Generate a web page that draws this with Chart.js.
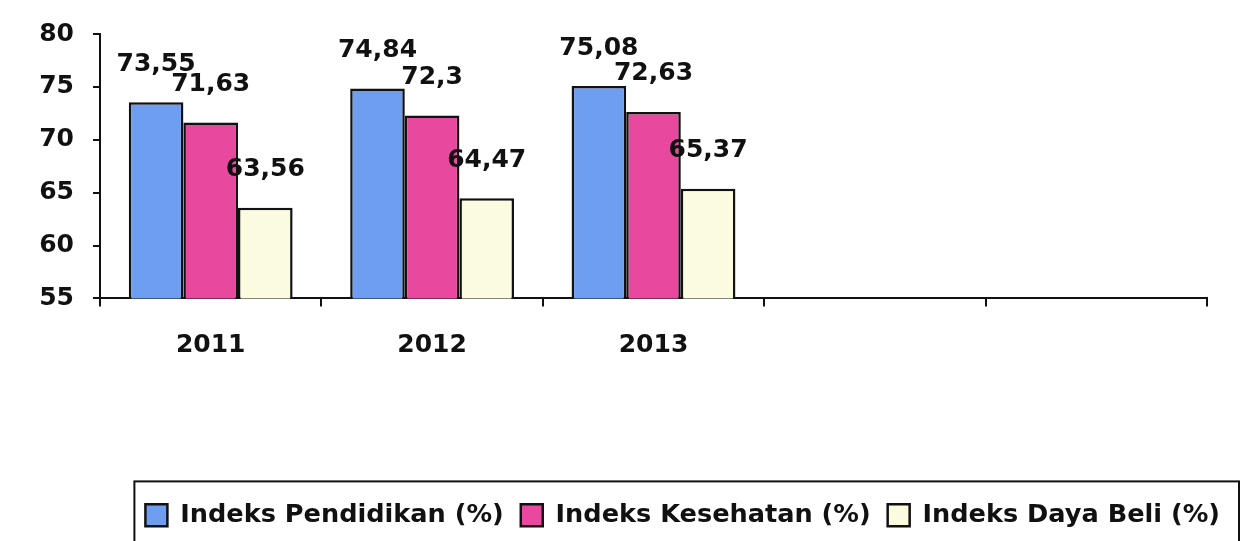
<!DOCTYPE html>
<html>
<head>
<meta charset="utf-8">
<script src="https://cdn.jsdelivr.net/npm/chart.js@4/dist/chart.umd.min.js"></script>
<style>
    html, body { margin: 0; padding: 0; background: #fff; }
    #box { width: 1248px; height: 541px; position: relative; }
</style>
</head>
<body>
<div id="box"><canvas id="chart"></canvas></div>
<script>
const years = ["2011", "2012", "2013", "", ""];
const pendidikan = [73.55, 74.84, 75.08, null, null];
const kesehatan = [71.63, 72.3, 72.63, null, null];
const dayaBeli = [63.56, 64.47, 65.37, null, null];
const yTicks = [55, 60, 65, 70, 75, 80];

const fontFamily = "'DejaVu Sans', Verdana, sans-serif";

// value labels above each bar, comma as decimal separator
const valueLabels = {
    id: 'valueLabels',
    afterDatasetsDraw(chart) {
        const ctx = chart.ctx;
        ctx.save();
        ctx.font = "bold 25px " + fontFamily;
        ctx.fillStyle = "#111";
        ctx.textAlign = 'center';
        ctx.textBaseline = 'middle';
        chart.data.datasets.forEach((ds, i) => {
            chart.getDatasetMeta(i).data.forEach((bar, j) => {
                const v = ds.data[j];
                if (v === null) return;
                ctx.fillText(String(v).replace('.', ','), bar.x, bar.y - 38);
            });
        });
        ctx.restore();
    }
};

// frame around the legend (bottom edge runs off the picture)
const legendFrame = {
    id: 'legendFrame',
    afterDraw(chart) {
        const boxes = chart.legend.legendHitBoxes;
        if (!boxes || !boxes.length) return;
        const left = Math.min(...boxes.map(b => b.left)) - 11;
        const right = Math.max(...boxes.map(b => b.left + b.width)) + 19;
        const top = boxes[0].top - 21;
        const ctx = chart.ctx;
        ctx.save();
        ctx.strokeStyle = "#111";
        ctx.lineWidth = 2;
        ctx.strokeRect(left, top, right - left, chart.height + 10 - top);
        ctx.restore();
    }
};

new Chart(document.getElementById('chart'), {
    type: 'bar',
    data: {
        labels: years,
        datasets: [
            {
                label: "Indeks Pendidikan (%)",
                data: pendidikan,
                backgroundColor: "#6e9ef0",
                borderColor: "#111",
                borderWidth: 2.5
            },
            {
                label: "Indeks Kesehatan (%)",
                data: kesehatan,
                backgroundColor: "#e8489e",
                borderColor: "#111",
                borderWidth: 2.5
            },
            {
                label: "Indeks Daya Beli (%)",
                data: dayaBeli,
                backgroundColor: "#fbfbe0",
                borderColor: "#111",
                borderWidth: 2.5
            }
        ]
    },
    plugins: [valueLabels, legendFrame],
    options: {
        responsive: true,
        maintainAspectRatio: false,
        animation: false,
        categoryPercentage: 0.74,
        barPercentage: 1,
        layout: {
            padding: { top: 32, left: 0, right: 11, bottom: 3 }
        },
        plugins: {
            tooltip: { enabled: false },
            legend: {
                position: 'bottom',
                align: 'end',
                labels: {
                    color: "#111",
                    font: { family: fontFamily, size: 25.6, weight: 'bold' },
                    boxWidth: 22,
                    boxHeight: 22,
                    padding: 17
                }
            }
        },
        scales: {
            x: {
                grid: { drawOnChartArea: false, color: "#111", lineWidth: 2, tickLength: 8, offset: true },
                border: { color: "#111", width: 2 },
                ticks: {
                    color: "#111",
                    padding: 24,
                    font: { family: fontFamily, size: 25, weight: 'bold' }
                },
                afterFit(scale) { scale.height = 187; }
            },
            y: {
                min: yTicks[0],
                max: yTicks[yTicks.length - 1],
                grid: { drawOnChartArea: false, color: "#111", lineWidth: 2, tickLength: 7 },
                border: { color: "#111", width: 2 },
                afterBuildTicks(scale) { scale.ticks = yTicks.map(v => ({ value: v })); },
                ticks: {
                    color: "#111",
                    padding: 19,
                    font: { family: fontFamily, size: 25, weight: 'bold' }
                },
                afterFit(scale) { scale.width = 100; }
            },
            y2: {
                position: 'right',
                min: 0,
                max: 1,
                grid: { display: false },
                border: { display: false },
                ticks: { display: false },
                afterFit(scale) { scale.width = 30; }
            }
        }
    }
});
</script>
</body>
</html>
